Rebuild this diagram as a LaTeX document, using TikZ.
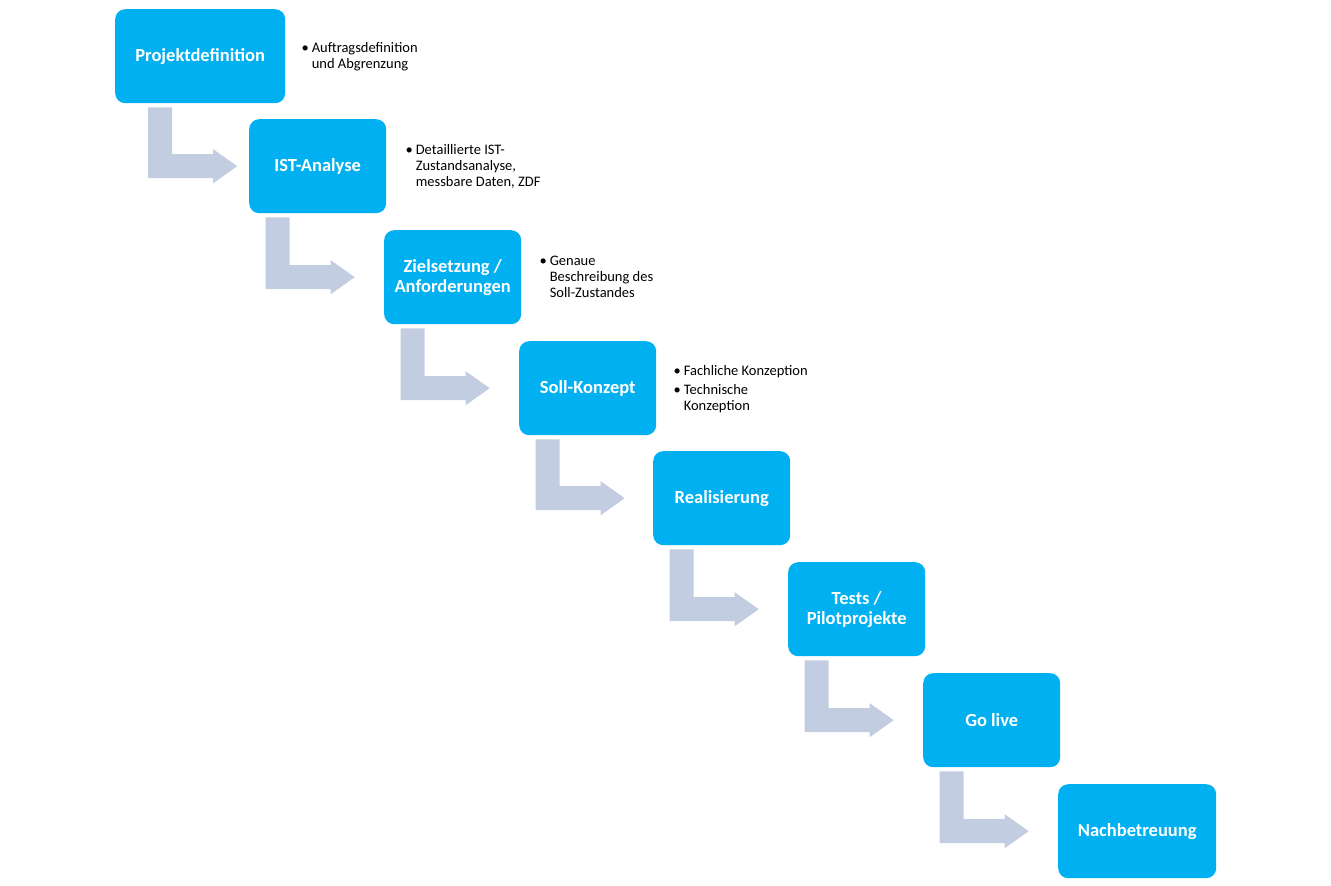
\documentclass[tikz,border=0pt]{standalone}
\usepackage{fontspec}
\setmainfont{Carlito}
\usepackage{tikz}
\usetikzlibrary{positioning,calc}

\definecolor{phasecyan}{RGB}{0,176,240}
\definecolor{flowgray}{RGB}{195,205,225}

% bent arrow from the bottom of one phase to the left of the next
\newcommand{\phasearrow}[2]{%
  \fill[flowgray] let \p1=(#1.south), \p2=(#2.west) in
    (\x1-52,\y1-4) -- (\x1-28,\y1-4) -- (\x1-28,\y2+12) -- (\x1+13,\y2+12)
    -- (\x1+13,\y2+17) -- (\x1+37,\y2) -- (\x1+13,\y2-17) -- (\x1+13,\y2-12)
    -- (\x1-52,\y2-12) -- cycle;}

\begin{document}
\begin{tikzpicture}[
    x=1pt, y=1pt,
    phasebox/.style={
        fill=phasecyan,
        rounded corners=10pt,
        text=white,
        align=center,
        font=\fontsize{18.5}{20}\selectfont\bfseries,
        minimum width=137pt,
        minimum height=94pt,
        inner sep=2pt,
        anchor=north west
    },
    notetext/.style={
        anchor=north west,
        inner sep=0pt,
        font=\fontsize{14.5}{16}\selectfont
    }
]
\useasboundingbox (0,0) rectangle (1331,-886);

\node[phasebox, minimum width=170pt] (projekt) at (115,-9) {Projektdefinition};
\node[phasebox] (istanalyse) at (249,-119) {IST-Analyse};
\node[phasebox] (ziel) at (384,-230) {Zielsetzung /\\Anforderungen};
\node[phasebox] (sollkonzept) at (519,-341) {Soll-Konzept};
\node[phasebox] (realisierung) at (653,-451) {Realisierung};
\node[phasebox] (tests) at (788,-562) {Tests /\\Pilotprojekte};
\node[phasebox] (golive) at (923,-673) {Go live};
\node[phasebox, minimum width=158pt] (nachbetreuung) at (1058,-784) {Nachbetreuung};

\phasearrow{projekt}{istanalyse}
\phasearrow{istanalyse}{ziel}
\phasearrow{ziel}{sollkonzept}
\phasearrow{sollkonzept}{realisierung}
\phasearrow{realisierung}{tests}
\phasearrow{tests}{golive}
\phasearrow{golive}{nachbetreuung}

\node[notetext] (note1) at ([xshift=16pt,yshift=-32pt]projekt.north east)
    {\begin{tabular}{@{}l@{\hspace{3pt}}l@{}}\textbullet & Auftragsdefinition\\ & und Abgrenzung\end{tabular}};
\node[notetext] (note2) at ([xshift=19pt,yshift=-24pt]istanalyse.north east)
    {\begin{tabular}{@{}l@{\hspace{3pt}}l@{}}\textbullet & Detaillierte IST-\\ & Zustandsanalyse,\\ & messbare Daten, ZDF\end{tabular}};
\node[notetext] (note3) at ([xshift=18pt,yshift=-24pt]ziel.north east)
    {\begin{tabular}{@{}l@{\hspace{3pt}}l@{}}\textbullet & Genaue\\ & Beschreibung des\\ & Soll-Zustandes\end{tabular}};
\node[notetext] (note4) at ([xshift=17pt,yshift=-23pt]sollkonzept.north east)
    {\begin{tabular}{@{}l@{\hspace{3pt}}l@{}}\textbullet & Fachliche Konzeption\\[3pt] \textbullet & Technische\\ & Konzeption\end{tabular}};
\end{tikzpicture}
\end{document}
